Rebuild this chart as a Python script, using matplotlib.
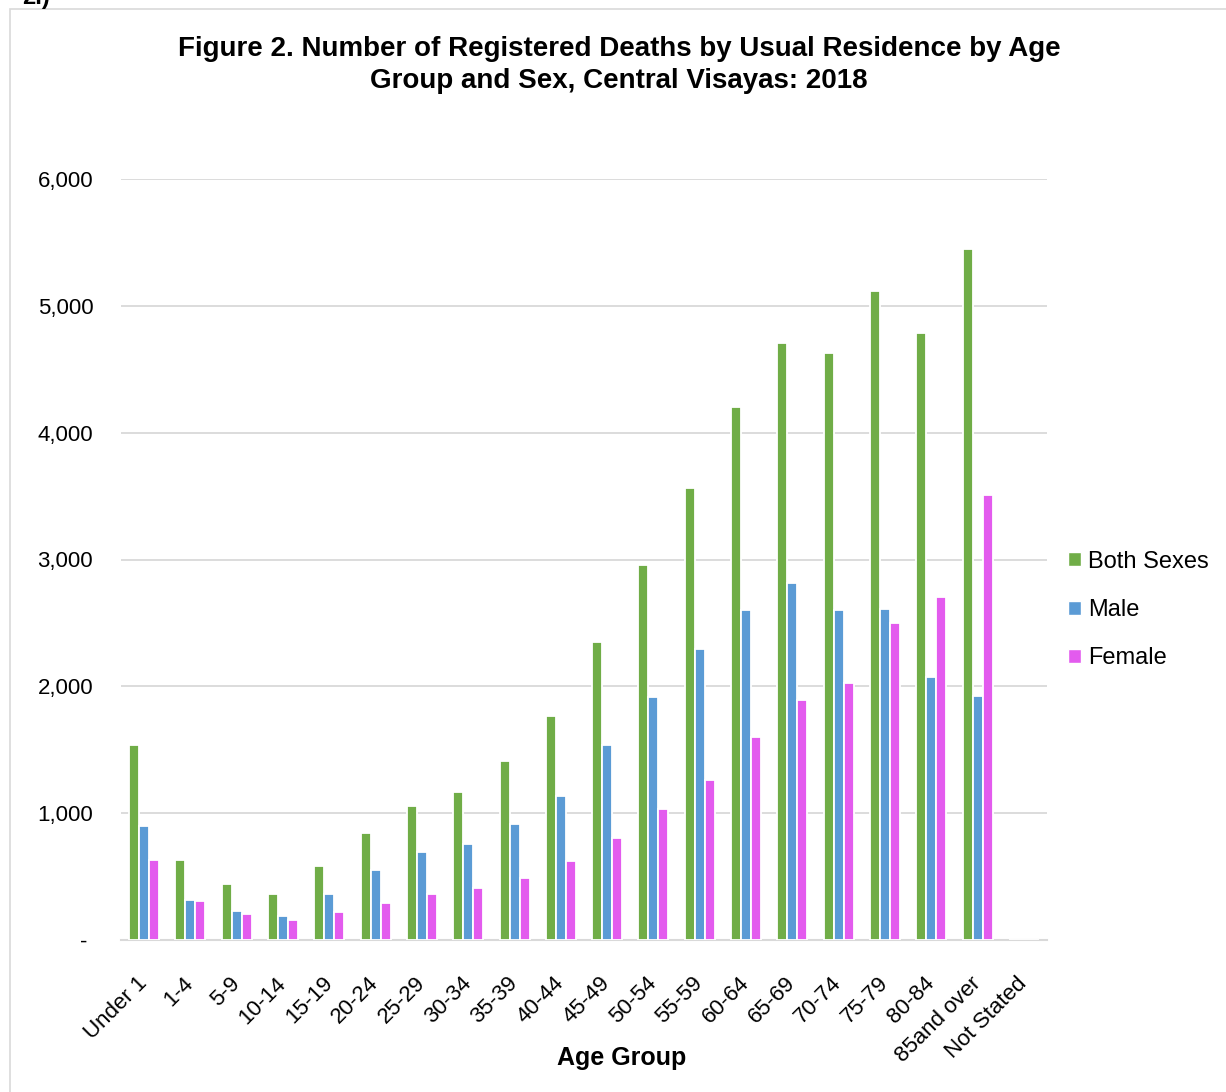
import matplotlib
matplotlib.use("Agg")
import matplotlib.pyplot as plt
import numpy as np
from matplotlib.patches import Rectangle, Patch
from matplotlib.ticker import FuncFormatter

categories = ["Under 1", "1-4", "5-9", "10-14", "15-19", "20-24", "25-29", "30-34",
              "35-39", "40-44", "45-49", "50-54", "55-59", "60-64", "65-69", "70-74",
              "75-79", "80-84", "85and over", "Not Stated"]
both_sexes = [1540, 630, 440, 362, 580, 840, 1055, 1165, 1410, 1765, 2350, 2955,
              3562, 4205, 4708, 4630, 5118, 4784, 5450, 0]
male = [895, 318, 229, 187, 360, 549, 692, 755, 915, 1136, 1540, 1914,
        2298, 2600, 2813, 2600, 2610, 2077, 1924, 0]
female = [631, 308, 207, 155, 218, 289, 360, 410, 489, 620, 804, 1035,
          1259, 1601, 1895, 2024, 2500, 2703, 3512, 0]
series_names = ["Both Sexes", "Male", "Female"]
colors = ["#70AD47", "#5B9BD5", "#E35BEE"]
yticks = [0, 1000, 2000, 3000, 4000, 5000, 6000]

plt.rcParams['font.family'] = ['Liberation Sans', 'DejaVu Sans']

W, H = 1226, 1092
fig = plt.figure(figsize=(W / 100, H / 100), dpi=100)

# chart border
fig.patches.append(Rectangle((10 / W, -0.01), 1.0, 1 - 9 / H + 0.01, transform=fig.transFigure,
                             fill=False, edgecolor="#D9D9D9", linewidth=1.2))
fig.text(22 / W, 1 - 4 / H, "2.)", fontsize=17, fontweight="bold", ha="left", va="baseline")

ax = fig.add_axes([121 / W, 1 - 940 / H, (1047 - 121) / W, (940 - 179) / H])

x = np.arange(len(categories))
step = 0.216
for i, (vals, name, c) in enumerate(zip([both_sexes, male, female], series_names, colors)):
    ax.bar(x + (i - 1) * step, vals, width=step, color=c, edgecolor="white",
           linewidth=1.3, label=name, zorder=3)

ax.set_xlim(-0.5, len(categories) - 0.5)
ax.set_ylim(0, 6000)
ax.set_yticks(yticks)
ax.yaxis.set_major_formatter(FuncFormatter(lambda v, p: "- " if v == 0 else f"{int(v):,}"))
ax.grid(axis="y", color="#D9D9D9", linewidth=1.3, zorder=0)
for s in ["top", "left", "right"]:
    ax.spines[s].set_visible(False)
ax.spines["bottom"].set_color("#D9D9D9")
ax.spines["bottom"].set_linewidth(1.5)
ax.tick_params(axis="y", length=0, pad=20, labelsize=16, labelcolor="black")
ax.tick_params(axis="x", length=0, pad=29, labelsize=16, labelcolor="black")
ax.set_xticks(x)
ax.set_xticklabels(categories, rotation=45, ha="right", va="center", rotation_mode="anchor")

fig.text(622 / W, 1 - 1058 / H, "Age Group", fontsize=18, fontweight="bold",
         ha="center", va="center")
fig.text(619 / W, 1 - 65 / H,
         "Figure 2. Number of Registered Deaths by Usual Residence by Age\nGroup and Sex, Central Visayas: 2018",
         fontsize=20, fontweight="bold", ha="center", va="center", linespacing=1.33)

handles = [Patch(facecolor=c, edgecolor="white") for c in colors]
fig.legend(handles, series_names, loc="center left", bbox_to_anchor=(1068 / W, 1 - 610 / H),
           frameon=False, fontsize=17, handlelength=0.55, handleheight=0.55,
           handletextpad=0.3, labelspacing=1.12, borderaxespad=0, borderpad=0)

fig.savefig("out.png", dpi=100)
